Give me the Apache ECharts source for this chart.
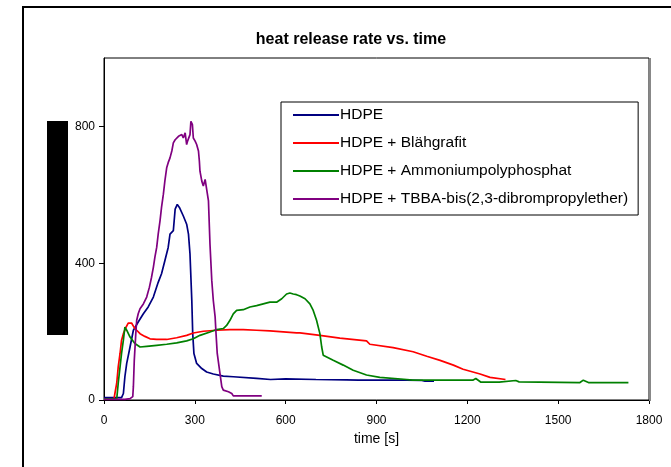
<!DOCTYPE html>
<html>
<head>
<meta charset="utf-8">
<script src="https://cdn.jsdelivr.net/npm/echarts@6/dist/echarts.min.js"></script>
<style>
html,body{margin:0;padding:0;background:#fff;}
#c{width:671px;height:467px;}
</style>
</head>
<body>
<div id="c"></div>
<script>
var titleText = 'heat release rate vs. time';
var xAxisName = 'time [s]';
var seriesNames = ['HDPE', 'HDPE + Blähgrafit', 'HDPE + Ammoniumpolyphosphat', 'HDPE + TBBA-bis(2,3-dibrompropylether)'];
var seriesColors = ['#000080', '#ff0000', '#008000', '#800080'];
var yTicks = [0, 400, 800];

var hdpe = [[0,7],[58,7],[64,19],[69,68],[75,107],[86,155],[97,204],[113,228],[130,252],[146,272],[163,301],[179,344],[190,369],[201,407],[212,446],[218,485],[229,495],[235,558],[242,572],[249,563],[262,538],[273,514],[279,485],[284,427],[290,291],[293,194],[297,136],[306,107],[323,92],[339,82],[361,76],[394,70],[427,68],[504,63],[550,60],[600,62],[700,60],[800,59],[840,58],[845,53],[852,58],[950,58],[1000,58],[1050,57],[1060,55],[1090,55]];

var blaehgrafit = [[0,3],[33,3],[36,19],[42,49],[47,97],[53,136],[58,175],[64,194],[73,213],[80,225],[91,225],[99,213],[108,204],[119,194],[135,186],[152,179],[174,177],[207,177],[240,182],[273,189],[295,196],[328,201],[372,204],[416,206],[460,206],[504,204],[548,202],[592,199],[636,196],[647,196],[713,189],[779,181],[867,173],[878,163],[955,153],[1021,141],[1066,128],[1110,116],[1154,102],[1186,90],[1242,76],[1275,66],[1326,60]];

var app = [[0,3],[42,3],[47,49],[53,97],[58,136],[64,175],[69,213],[75,204],[86,184],[102,165],[119,155],[141,157],[174,160],[207,163],[240,167],[273,173],[295,179],[317,189],[350,199],[372,206],[394,209],[405,218],[416,233],[427,252],[438,262],[460,264],[482,272],[504,276],[526,281],[548,286],[570,286],[587,296],[603,310],[614,313],[625,310],[636,308],[647,304],[664,296],[680,281],[691,262],[702,233],[713,194],[719,155],[724,131],[730,126],[757,116],[790,102],[823,87],[867,73],[911,66],[1000,60],[1020,58],[1025,63],[1030,58],[1087,58],[1218,58],[1228,63],[1245,52],[1305,52],[1360,57],[1371,53],[1572,51],[1583,58],[1600,51],[1688,51],[1693,46],[1704,51],[1732,51]];

var tbba = [[0,2],[69,2],[86,4],[95,10],[97,39],[100,116],[105,194],[108,233],[113,252],[119,267],[130,281],[141,301],[150,330],[157,359],[163,388],[168,417],[174,446],[179,485],[185,524],[190,563],[196,601],[201,640],[207,679],[212,694],[218,708],[224,728],[229,752],[235,761],[240,757],[246,771],[251,766],[257,776],[262,766],[268,781],[273,747],[276,757],[284,776],[287,815],[292,805],[295,766],[301,757],[306,747],[312,728],[315,698],[317,669],[323,640],[328,626],[334,645],[339,640],[345,582],[350,456],[356,349],[361,291],[367,243],[370,194],[374,136],[383,78],[389,39],[394,29],[411,24],[422,19],[427,12],[482,12],[521,12]];

var seriesData = [hdpe, blaehgrafit, app, tbba];

var chart = echarts.init(document.getElementById('c'), null, {renderer: 'canvas'});
var FONT = 'Liberation Sans, Arial, sans-serif';

var series = seriesData.map(function (d, i) {
  return {
    name: seriesNames[i],
    type: 'line',
    data: d,
    showSymbol: false,
    symbol: 'none',
    lineStyle: {color: seriesColors[i], width: 1.7},
    itemStyle: {color: seriesColors[i]},
    animation: false
  };
});

chart.setOption({
  animation: false,
  backgroundColor: '#fff',
  title: {
    text: titleText,
    left: 346, top: 27, textAlign: 'center',
    textStyle: {fontFamily: FONT, fontSize: 16, fontWeight: 'bold', color: '#000'}
  },
  legend: {
    data: seriesNames,
    orient: 'vertical',
    left: 281, top: 102,
    padding: [5, 10, 8, 12],
    itemGap: 12,
    itemWidth: 46, itemHeight: 18,
    icon: 'path://M0,8.9L46,8.9L46,10.9L0,10.9Z',
    backgroundColor: '#fff',
    borderColor: '#000', borderWidth: 1,
    textStyle: {fontFamily: FONT, fontSize: 15.5, color: '#000', padding: [0,0,0,-4]}
  },
  grid: {
    left: 104, top: 58, right: 22, bottom: 67,
    show: true, borderColor: '#000', borderWidth: 1, backgroundColor: '#fff'
  },
  xAxis: {
    type: 'value', min: 0, max: 1800, interval: 300,
    name: xAxisName, nameLocation: 'middle', nameGap: 31,
    nameTextStyle: {fontFamily: FONT, fontSize: 14, color: '#000'},
    axisLine: {show: true, lineStyle: {color: '#000', width: 1}},
    axisTick: {show: true, length: 4, lineStyle: {color: '#000'}},
    axisLabel: {fontFamily: FONT, fontSize: 12, color: '#000', margin: 15, formatter: function (v) { return String(v); }},
    splitLine: {show: false}
  },
  yAxis: {
    type: 'value', min: 0, max: 1000,
    axisLine: {show: true, lineStyle: {color: '#000', width: 1}},
    axisTick: {show: true, length: 5, lineStyle: {color: '#000'}, customValues: yTicks},
    axisLabel: {fontFamily: FONT, fontSize: 12, color: '#000', margin: 9, customValues: yTicks, formatter: function (v) { return String(v); }},
    splitLine: {show: false}
  },
  graphic: [
    {type: 'rect', shape: {x: 23, y: 7, width: 700, height: 500}, style: {fill: 'none', stroke: '#000', lineWidth: 2}, z: 100, silent: true},
    {type: 'line', shape: {x1: 650, y1: 58, x2: 650, y2: 401}, style: {stroke: '#888', lineWidth: 2}, z: 100, silent: true},
    {type: 'rect', shape: {x: 47, y: 121, width: 21, height: 214}, style: {fill: '#000'}, z: 100, silent: true}
  ],
  series: series
});
</script>
</body>
</html>
